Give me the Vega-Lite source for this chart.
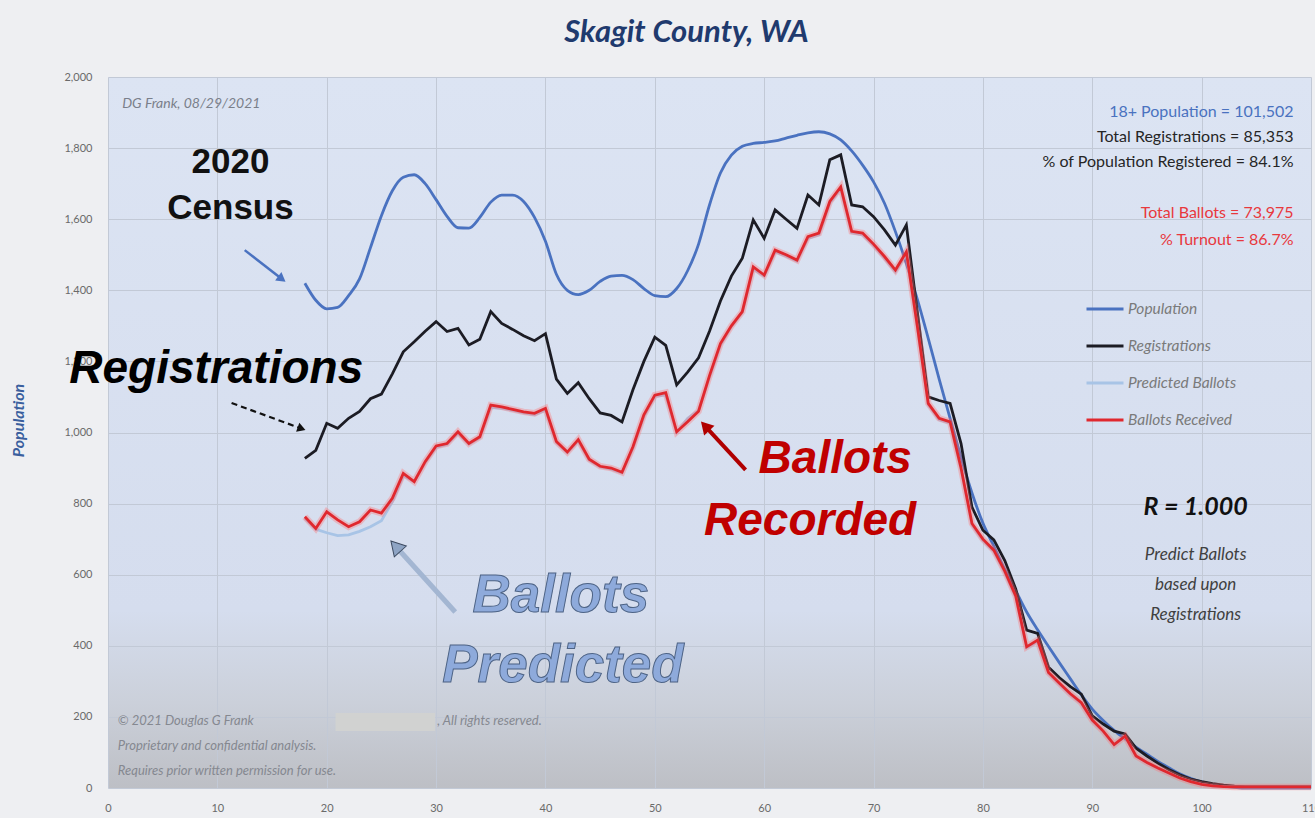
{
  "$schema": "https://vega.github.io/schema/vega-lite/v6.json",
  "width": 1203,
  "height": 711,
  "autosize": "none",
  "padding": {"left": 108, "top": 77, "right": 4, "bottom": 30},
  "background": "#eeeff2",
  "config": {
    "font": "Lato",
    "view": {
      "stroke": null,
      "fill": {"gradient": "linear", "x1": 0, "y1": 0, "x2": 0, "y2": 1,
        "stops": [{"offset": 0, "color": "#dce4f3"}, {"offset": 0.75, "color": "#d5ddee"}, {"offset": 0.88, "color": "#cbd0da"}, {"offset": 1, "color": "#bdbfc5"}]}
    },
    "axis": {"labelFontSize": 11, "labelColor": "#6a6a6a", "labelFont": "Lato", "ticks": false, "tickSize": 0, "domain": false, "grid": true, "gridColor": "#c2c9d6", "gridWidth": 1},
    "axisX": {"labelPadding": 14, "labelFlush": false},
    "axisY": {"labelPadding": 16, "titleFont": "Lato", "titleFontSize": 16, "titleFontStyle": "italic", "titleFontWeight": "bold", "titleColor": "#3a5f9e", "titleX": -90, "titleY": 343, "titleAngle": -90, "titleAlign": "center", "titleBaseline": "middle"}
  },
  "title": {"text": "Skagit County, WA", "fontSize": 31, "font": "Lato", "fontWeight": "bold", "fontStyle": "italic", "color": "#1f3a6e", "anchor": "middle", "frame": "group", "dx": -23, "offset": 22},
  "datasets": {
    "ages": [
      {"age": 18, "pop": 1420, "reg": 927, "ballots": 763, "pred": 758},
      {"age": 19, "pop": 1372, "reg": 950, "ballots": 730, "pred": 728},
      {"age": 20, "pop": 1348, "reg": 1026, "ballots": 777, "pred": 718},
      {"age": 21, "pop": 1352, "reg": 1012, "ballots": 754, "pred": 710},
      {"age": 22, "pop": 1385, "reg": 1040, "ballots": 735, "pred": 712},
      {"age": 23, "pop": 1432, "reg": 1059, "ballots": 749, "pred": 722},
      {"age": 24, "pop": 1520, "reg": 1095, "ballots": 782, "pred": 735},
      {"age": 25, "pop": 1610, "reg": 1108, "ballots": 773, "pred": 752},
      {"age": 26, "pop": 1680, "reg": 1165, "ballots": 815, "pred": 805},
      {"age": 27, "pop": 1718, "reg": 1227, "ballots": 885, "pred": 878},
      {"age": 28, "pop": 1725, "reg": 1255, "ballots": 862, "pred": 862},
      {"age": 29, "pop": 1700, "reg": 1285, "ballots": 918, "pred": 915},
      {"age": 30, "pop": 1655, "reg": 1312, "ballots": 962, "pred": 958},
      {"age": 31, "pop": 1608, "reg": 1284, "ballots": 969, "pred": 966},
      {"age": 32, "pop": 1576, "reg": 1293, "ballots": 1002, "pred": 998},
      {"age": 33, "pop": 1575, "reg": 1246, "ballots": 969, "pred": 967},
      {"age": 34, "pop": 1605, "reg": 1262, "ballots": 988, "pred": 985},
      {"age": 35, "pop": 1648, "reg": 1340, "ballots": 1077, "pred": 1070},
      {"age": 36, "pop": 1668, "reg": 1307, "ballots": 1072, "pred": 1068},
      {"age": 37, "pop": 1668, "reg": 1290, "ballots": 1065, "pred": 1062},
      {"age": 38, "pop": 1650, "reg": 1272, "ballots": 1058, "pred": 1055},
      {"age": 39, "pop": 1605, "reg": 1258, "ballots": 1054, "pred": 1050},
      {"age": 40, "pop": 1538, "reg": 1278, "ballots": 1068, "pred": 1063},
      {"age": 41, "pop": 1445, "reg": 1150, "ballots": 975, "pred": 972},
      {"age": 42, "pop": 1400, "reg": 1110, "ballots": 945, "pred": 943},
      {"age": 43, "pop": 1388, "reg": 1140, "ballots": 980, "pred": 976},
      {"age": 44, "pop": 1400, "reg": 1095, "ballots": 925, "pred": 922},
      {"age": 45, "pop": 1425, "reg": 1055, "ballots": 905, "pred": 903},
      {"age": 46, "pop": 1440, "reg": 1048, "ballots": 900, "pred": 897},
      {"age": 47, "pop": 1442, "reg": 1030, "ballots": 888, "pred": 886},
      {"age": 48, "pop": 1430, "reg": 1120, "ballots": 960, "pred": 956},
      {"age": 49, "pop": 1405, "reg": 1200, "ballots": 1050, "pred": 1045},
      {"age": 50, "pop": 1385, "reg": 1268, "ballots": 1105, "pred": 1102},
      {"age": 51, "pop": 1382, "reg": 1245, "ballots": 1112, "pred": 1105},
      {"age": 52, "pop": 1405, "reg": 1134, "ballots": 1002, "pred": 1000},
      {"age": 53, "pop": 1455, "reg": 1170, "ballots": 1030, "pred": 1040},
      {"age": 54, "pop": 1530, "reg": 1210, "ballots": 1060, "pred": 1062},
      {"age": 55, "pop": 1640, "reg": 1285, "ballots": 1160, "pred": 1155},
      {"age": 56, "pop": 1730, "reg": 1370, "ballots": 1250, "pred": 1245},
      {"age": 57, "pop": 1780, "reg": 1440, "ballots": 1300, "pred": 1298},
      {"age": 58, "pop": 1805, "reg": 1490, "ballots": 1340, "pred": 1338},
      {"age": 59, "pop": 1813, "reg": 1598, "ballots": 1466, "pred": 1460},
      {"age": 60, "pop": 1816, "reg": 1546, "ballots": 1443, "pred": 1440},
      {"age": 61, "pop": 1820, "reg": 1626, "ballots": 1513, "pred": 1508},
      {"age": 62, "pop": 1828, "reg": 1600, "ballots": 1500, "pred": 1496},
      {"age": 63, "pop": 1836, "reg": 1574, "ballots": 1485, "pred": 1482},
      {"age": 64, "pop": 1843, "reg": 1668, "ballots": 1551, "pred": 1546},
      {"age": 65, "pop": 1846, "reg": 1640, "ballots": 1561, "pred": 1556},
      {"age": 66, "pop": 1840, "reg": 1767, "ballots": 1650, "pred": 1645},
      {"age": 67, "pop": 1823, "reg": 1781, "ballots": 1691, "pred": 1686},
      {"age": 68, "pop": 1792, "reg": 1640, "ballots": 1566, "pred": 1562},
      {"age": 69, "pop": 1752, "reg": 1635, "ballots": 1561, "pred": 1556},
      {"age": 70, "pop": 1705, "reg": 1607, "ballots": 1530, "pred": 1526},
      {"age": 71, "pop": 1645, "reg": 1570, "ballots": 1495, "pred": 1490},
      {"age": 72, "pop": 1565, "reg": 1527, "ballots": 1457, "pred": 1452},
      {"age": 73, "pop": 1475, "reg": 1584, "ballots": 1508, "pred": 1502},
      {"age": 74, "pop": 1375, "reg": 1340, "ballots": 1300, "pred": 1296},
      {"age": 75, "pop": 1265, "reg": 1100, "ballots": 1082, "pred": 1078},
      {"age": 76, "pop": 1150, "reg": 1090, "ballots": 1040, "pred": 1036},
      {"age": 77, "pop": 1040, "reg": 1082, "ballots": 1030, "pred": 1026},
      {"age": 78, "pop": 930, "reg": 969, "ballots": 900, "pred": 896},
      {"age": 79, "pop": 830, "reg": 790, "ballots": 744, "pred": 740},
      {"age": 80, "pop": 745, "reg": 725, "ballots": 700, "pred": 696},
      {"age": 81, "pop": 680, "reg": 698, "ballots": 669, "pred": 665},
      {"age": 82, "pop": 615, "reg": 640, "ballots": 610, "pred": 606},
      {"age": 83, "pop": 555, "reg": 560, "ballots": 540, "pred": 536},
      {"age": 84, "pop": 495, "reg": 444, "ballots": 397, "pred": 394},
      {"age": 85, "pop": 445, "reg": 435, "ballots": 416, "pred": 412},
      {"age": 86, "pop": 398, "reg": 340, "ballots": 325, "pred": 322},
      {"age": 87, "pop": 352, "reg": 310, "ballots": 295, "pred": 292},
      {"age": 88, "pop": 307, "reg": 285, "ballots": 265, "pred": 262},
      {"age": 89, "pop": 262, "reg": 264, "ballots": 240, "pred": 237},
      {"age": 90, "pop": 222, "reg": 203, "ballots": 191, "pred": 188},
      {"age": 91, "pop": 190, "reg": 180, "ballots": 160, "pred": 158},
      {"age": 92, "pop": 162, "reg": 160, "ballots": 122, "pred": 121},
      {"age": 93, "pop": 138, "reg": 152, "ballots": 146, "pred": 144},
      {"age": 94, "pop": 115, "reg": 112, "ballots": 90, "pred": 89},
      {"age": 95, "pop": 95, "reg": 90, "ballots": 72, "pred": 71},
      {"age": 96, "pop": 75, "reg": 70, "ballots": 56, "pred": 55},
      {"age": 97, "pop": 57, "reg": 52, "ballots": 42, "pred": 41},
      {"age": 98, "pop": 40, "reg": 37, "ballots": 28, "pred": 28},
      {"age": 99, "pop": 27, "reg": 25, "ballots": 18, "pred": 18},
      {"age": 100, "pop": 17, "reg": 18, "ballots": 10, "pred": 10},
      {"age": 101, "pop": 10, "reg": 12, "ballots": 6, "pred": 6},
      {"age": 102, "pop": 5, "reg": 8, "ballots": 4, "pred": 4},
      {"age": 103, "pop": 2, "reg": 5, "ballots": 3, "pred": 3},
      {"age": 104, "pop": 0, "reg": 4, "ballots": 3, "pred": 3},
      {"age": 105, "pop": 0, "reg": 4, "ballots": 3, "pred": 3},
      {"age": 106, "pop": 0, "reg": 4, "ballots": 3, "pred": 3},
      {"age": 107, "pop": 0, "reg": 4, "ballots": 3, "pred": 3},
      {"age": 108, "pop": 0, "reg": 4, "ballots": 3, "pred": 3},
      {"age": 109, "pop": 0, "reg": 4, "ballots": 3, "pred": 3},
      {"age": 110, "pop": 0, "reg": 4, "ballots": 3, "pred": 3}
    ]
  },
  "layer": [
    {
      "data": {"name": "ages"},
      "mark": {"type": "line", "strokeWidth": 2.8, "interpolate": "monotone"},
      "encoding": {
        "x": {"field": "age", "type": "quantitative", "title": null,
          "scale": {"domain": [0, 110], "nice": false, "zero": false},
          "axis": {"values": [0,10,20,30,40,50,60,70,80,90,100,110]}},
        "y": {"field": "pop", "type": "quantitative", "title": "Population",
          "scale": {"domain": [0, 2000], "nice": false},
          "axis": {"values": [0,200,400,600,800,1000,1200,1400,1600,1800,2000], "format": ",d"}},
        "color": {"datum": "Population", "type": "nominal",
          "scale": {"domain": ["Population", "Registrations", "Predicted Ballots", "Ballots Received"], "range": ["#4a72c0", "#1c1c24", "#a8c4e6", "#e0282e"]},
          "legend": {"title": null, "orient": "none", "legendX": 977, "legendY": 212, "symbolType": "stroke", "symbolSize": 1369, "symbolStrokeWidth": 3, "rowPadding": 8, "labelOffset": 3, "labelFont": "Lato", "labelFontSize": 15.5, "labelFontStyle": "italic", "labelColor": "#7a7a7a"}}
      }
    },
    {
      "data": {"name": "ages"},
      "mark": {"type": "line", "strokeWidth": 2.8},
      "encoding": {
        "x": {"field": "age", "type": "quantitative", "title": null},
        "y": {"field": "reg", "type": "quantitative", "title": "Population"},
        "color": {"datum": "Registrations", "type": "nominal"}
      }
    },
    {
      "data": {"name": "ages"},
      "mark": {"type": "line", "strokeWidth": 2.8},
      "encoding": {
        "x": {"field": "age", "type": "quantitative", "title": null},
        "y": {"field": "pred", "type": "quantitative", "title": "Population"},
        "color": {"datum": "Predicted Ballots", "type": "nominal"}
      }
    },
    {
      "data": {"name": "ages"},
      "mark": {"type": "line", "strokeWidth": 6.5, "color": "#ff7070", "opacity": 0.35},
      "encoding": {
        "x": {"field": "age", "type": "quantitative", "title": null},
        "y": {"field": "ballots", "type": "quantitative", "title": "Population"}
      }
    },
    {
      "data": {"name": "ages"},
      "mark": {"type": "line", "strokeWidth": 2.8},
      "encoding": {
        "x": {"field": "age", "type": "quantitative", "title": null},
        "y": {"field": "ballots", "type": "quantitative", "title": "Population"},
        "color": {"datum": "Ballots Received", "type": "nominal"}
      }
    },
    {
      "data": {"values": [{}]},
      "mark": {"type": "text", "font": "Lato", "fontSize": 14, "fontStyle": "italic", "color": "#7a7f8a", "align": "left", "baseline": "alphabetic"},
      "encoding": {"x": {"datum": 1.3, "type": "quantitative", "title": null}, "y": {"datum": 1913, "type": "quantitative", "title": "Population"}, "text": {"value": "DG Frank, 08/29/2021"}}
    },
    {
      "data": {"values": [{}]},
      "mark": {"type": "text", "font": "Liberation Sans", "fontSize": 35, "fontWeight": "bold", "color": "#111111", "align": "center", "baseline": "alphabetic", "lineHeight": 46},
      "encoding": {"x": {"datum": 11.2, "type": "quantitative", "title": null}, "y": {"datum": 1730, "type": "quantitative", "title": "Population"}, "text": {"value": ["2020", "Census"]}}
    },
    {
      "data": {"values": [{}]},
      "mark": {"type": "rule", "color": "#4a72c0", "strokeWidth": 2.5},
      "encoding": {"x": {"datum": 12.5, "type": "quantitative", "title": null}, "y": {"datum": 1513, "type": "quantitative", "title": "Population"}, "x2": {"datum": 15.9}, "y2": {"datum": 1432}}
    },
    {
      "data": {"values": [{}]},
      "mark": {"type": "point", "shape": "triangle-up", "filled": true, "size": 110, "color": "#4a72c0", "opacity": 1, "angle": 127},
      "encoding": {"x": {"datum": 15.9, "type": "quantitative", "title": null}, "y": {"datum": 1432, "type": "quantitative", "title": "Population"}}
    },
    {
      "data": {"values": [{}]},
      "mark": {"type": "text", "font": "Liberation Sans", "fontSize": 46, "fontWeight": "bold", "fontStyle": "italic", "color": "#000000", "align": "center", "baseline": "alphabetic"},
      "encoding": {"x": {"datum": 9.9, "type": "quantitative", "title": null}, "y": {"datum": 1139, "type": "quantitative", "title": "Population"}, "text": {"value": "Registrations"}}
    },
    {
      "data": {"values": [{}]},
      "mark": {"type": "rule", "color": "#111111", "strokeWidth": 2.2, "strokeDash": [6, 4]},
      "encoding": {"x": {"datum": 11.3, "type": "quantitative", "title": null}, "y": {"datum": 1083, "type": "quantitative", "title": "Population"}, "x2": {"datum": 17.7}, "y2": {"datum": 1011}}
    },
    {
      "data": {"values": [{}]},
      "mark": {"type": "point", "shape": "triangle-up", "filled": true, "size": 90, "color": "#111111", "opacity": 1, "angle": 110},
      "encoding": {"x": {"datum": 17.7, "type": "quantitative", "title": null}, "y": {"datum": 1011, "type": "quantitative", "title": "Population"}}
    },
    {
      "data": {"values": [{}]},
      "mark": {"type": "text", "font": "Liberation Sans", "fontSize": 46, "fontWeight": "bold", "fontStyle": "italic", "color": "#c00000", "align": "center", "baseline": "alphabetic"},
      "encoding": {"x": {"datum": 66.5, "type": "quantitative", "title": null}, "y": {"datum": 886, "type": "quantitative", "title": "Population"}, "text": {"value": "Ballots"}}
    },
    {
      "data": {"values": [{}]},
      "mark": {"type": "text", "font": "Liberation Sans", "fontSize": 46, "fontWeight": "bold", "fontStyle": "italic", "color": "#c00000", "align": "center", "baseline": "alphabetic"},
      "encoding": {"x": {"datum": 64.2, "type": "quantitative", "title": null}, "y": {"datum": 712, "type": "quantitative", "title": "Population"}, "text": {"value": "Recorded"}}
    },
    {
      "data": {"values": [{}]},
      "mark": {"type": "rule", "color": "#b00000", "strokeWidth": 4},
      "encoding": {"x": {"datum": 58.3, "type": "quantitative", "title": null}, "y": {"datum": 895, "type": "quantitative", "title": "Population"}, "x2": {"datum": 54.6}, "y2": {"datum": 1018}}
    },
    {
      "data": {"values": [{}]},
      "mark": {"type": "point", "shape": "triangle-up", "filled": true, "size": 200, "color": "#b00000", "opacity": 1, "angle": 317},
      "encoding": {"x": {"datum": 54.6, "type": "quantitative", "title": null}, "y": {"datum": 1018, "type": "quantitative", "title": "Population"}}
    },
    {
      "data": {"values": [{}]},
      "mark": {"type": "rule", "color": "#a3b6d2", "strokeWidth": 5},
      "encoding": {"x": {"datum": 31.75, "type": "quantitative", "title": null}, "y": {"datum": 495, "type": "quantitative", "title": "Population"}, "x2": {"datum": 26.3}, "y2": {"datum": 680}}
    },
    {
      "data": {"values": [{}]},
      "mark": {"type": "point", "shape": "triangle-up", "filled": true, "size": 260, "color": "#8ea4c4", "stroke": "#3c4a60", "strokeWidth": 1, "opacity": 1, "angle": 318},
      "encoding": {"x": {"datum": 26.3, "type": "quantitative", "title": null}, "y": {"datum": 680, "type": "quantitative", "title": "Population"}}
    },
    {
      "data": {"values": [{}]},
      "mark": {"type": "text", "font": "Liberation Sans", "fontSize": 53, "fontWeight": "bold", "fontStyle": "italic", "fill": "#8eaadb", "stroke": "#4d6385", "strokeWidth": 1, "align": "center", "baseline": "alphabetic"},
      "encoding": {"x": {"datum": 41.4, "type": "quantitative", "title": null}, "y": {"datum": 495, "type": "quantitative", "title": "Population"}, "text": {"value": "Ballots"}}
    },
    {
      "data": {"values": [{}]},
      "mark": {"type": "text", "font": "Liberation Sans", "fontSize": 53, "fontWeight": "bold", "fontStyle": "italic", "fill": "#8eaadb", "stroke": "#4d6385", "strokeWidth": 1, "align": "center", "baseline": "alphabetic"},
      "encoding": {"x": {"datum": 41.6, "type": "quantitative", "title": null}, "y": {"datum": 298, "type": "quantitative", "title": "Population"}, "text": {"value": "Predicted"}}
    },
    {
      "data": {"values": [{}]},
      "mark": {"type": "text", "font": "Lato", "fontSize": 16, "color": "#4a72c0", "align": "right", "baseline": "alphabetic"},
      "encoding": {"x": {"datum": 108.4, "type": "quantitative", "title": null}, "y": {"datum": 1887, "type": "quantitative", "title": "Population"}, "text": {"value": "18+ Population = 101,502"}}
    },
    {
      "data": {"values": [{}]},
      "mark": {"type": "text", "font": "Lato", "fontSize": 16, "color": "#262626", "align": "right", "baseline": "alphabetic", "lineHeight": 25},
      "encoding": {"x": {"datum": 108.4, "type": "quantitative", "title": null}, "y": {"datum": 1817, "type": "quantitative", "title": "Population"}, "text": {"value": ["Total Registrations = 85,353", "% of Population Registered = 84.1%"]}}
    },
    {
      "data": {"values": [{}]},
      "mark": {"type": "text", "font": "Lato", "fontSize": 16, "color": "#e8383d", "align": "right", "baseline": "alphabetic", "lineHeight": 27},
      "encoding": {"x": {"datum": 108.4, "type": "quantitative", "title": null}, "y": {"datum": 1603, "type": "quantitative", "title": "Population"}, "text": {"value": ["Total Ballots = 73,975", "% Turnout = 86.7%"]}}
    },
    {
      "data": {"values": [{}]},
      "mark": {"type": "text", "font": "Lato", "fontSize": 25, "fontWeight": "bold", "fontStyle": "italic", "color": "#111111", "align": "center", "baseline": "alphabetic"},
      "encoding": {"x": {"datum": 99.45, "type": "quantitative", "title": null}, "y": {"datum": 768, "type": "quantitative", "title": "Population"}, "text": {"value": "R = 1.000"}}
    },
    {
      "data": {"values": [{}]},
      "mark": {"type": "text", "font": "Lato", "fontSize": 17, "fontStyle": "italic", "color": "#404040", "align": "center", "baseline": "alphabetic", "lineHeight": 30},
      "encoding": {"x": {"datum": 99.45, "type": "quantitative", "title": null}, "y": {"datum": 641, "type": "quantitative", "title": "Population"}, "text": {"value": ["Predict Ballots", "based upon", "Registrations"]}}
    },
    {
      "data": {"values": [{}]},
      "mark": {"type": "rect", "color": "#d2d3d0", "opacity": 0.9},
      "encoding": {"x": {"datum": 20.8, "type": "quantitative", "title": null}, "x2": {"datum": 29.9}, "y": {"datum": 211, "type": "quantitative", "title": "Population"}, "y2": {"datum": 160}}
    },
    {
      "data": {"values": [{}]},
      "mark": {"type": "text", "font": "Lato", "fontSize": 13, "fontStyle": "italic", "color": "#858890", "align": "left", "baseline": "alphabetic", "lineHeight": 25},
      "encoding": {"x": {"datum": 0.9, "type": "quantitative", "title": null}, "y": {"datum": 177, "type": "quantitative", "title": "Population"}, "text": {"value": ["© 2021 Douglas G Frank", "Proprietary and confidential analysis.", "Requires prior written permission for use."]}}
    },
    {
      "data": {"values": [{}]},
      "mark": {"type": "text", "font": "Lato", "fontSize": 13, "fontStyle": "italic", "color": "#858890", "align": "left", "baseline": "alphabetic"},
      "encoding": {"x": {"datum": 30.1, "type": "quantitative", "title": null}, "y": {"datum": 177, "type": "quantitative", "title": "Population"}, "text": {"value": ", All rights reserved."}}
    }
  ]
}
